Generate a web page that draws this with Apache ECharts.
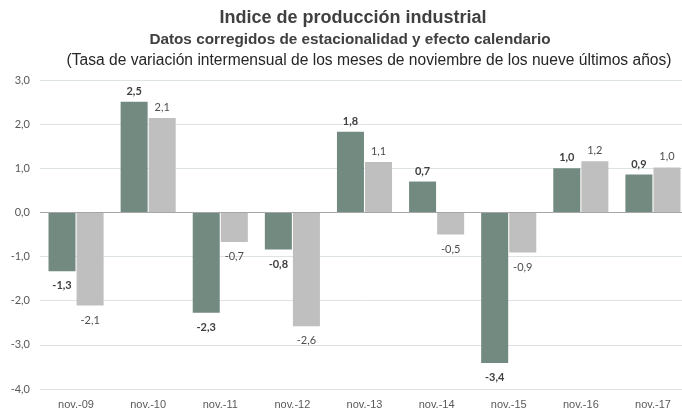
<!DOCTYPE html>
<html>
<head>
<meta charset="utf-8">
<script src="https://cdn.jsdelivr.net/npm/echarts@6/dist/echarts.min.js"></script>
<style>
  html, body { margin: 0; padding: 0; background: #fff; }
  #chart { width: 682px; height: 412px; }
</style>
</head>
<body>
<div id="chart"></div>
<script>
const categories = ['nov.-09', 'nov.-10', 'nov.-11', 'nov.-12', 'nov.-13', 'nov.-14', 'nov.-15', 'nov.-16', 'nov.-17']
const seriesA = [-1.33, 2.51, -2.27, -0.84, 1.83, 0.70, -3.41, 1.00, 0.86]
const seriesB = [-2.11, 2.14, -0.67, -2.58, 1.14, -0.50, -0.91, 1.16, 1.02]
const yTicks = { min: -4, max: 3, interval: 1 }

const fmt = v => v.toFixed(1).replace('.', ',')

function toItems(values) {
  return values.map(v => ({
    value: v,
    label: { position: v < 0 ? 'bottom' : 'top', distance: v < 0 ? 9 : 5 }
  }))
}

const chart = echarts.init(document.getElementById('chart'))

const option = {
  animation: false,
  backgroundColor: '#fff',
  title: [
    {
      text: 'Indice de producción industrial',
      left: 348,
      top: 4,
      textAlign: 'center',
      textStyle: { fontFamily: 'Liberation Sans', fontSize: 18, fontWeight: 'bold', color: '#404040' }
    },
    {
      text: 'Datos corregidos de estacionalidad y efecto calendario',
      left: 345,
      top: 27,
      textAlign: 'center',
      textStyle: { fontFamily: 'Liberation Sans', fontSize: 15.3, fontWeight: 'bold', color: '#404040' }
    },
    {
      text: '(Tasa de variación intermensual de los meses de noviembre de los nueve últimos años)',
      left: 364,
      top: 48,
      textAlign: 'center',
      textStyle: { fontFamily: 'Liberation Sans', fontSize: 15.6, fontWeight: 'normal', color: '#262626' }
    }
  ],
  grid: {
    left: 40,
    right: -7,
    top: 80,
    bottom: 23,
    outerBoundsMode: 'none'
  },
  xAxis: {
    type: 'category',
    data: categories,
    axisLine: { show: false },
    axisTick: { show: false },
    axisLabel: {
      margin: 10,
      color: '#595959',
      fontFamily: 'Liberation Sans',
      fontSize: 11
    }
  },
  yAxis: {
    type: 'value',
    min: yTicks.min,
    max: yTicks.max,
    interval: yTicks.interval,
    axisLine: { show: false },
    axisTick: { show: false },
    axisLabel: {
      margin: 10,
      color: '#595959',
      fontFamily: 'Lato',
      fontSize: 11,
      formatter: v => fmt(v)
    },
    splitLine: { lineStyle: { color: '#dde3e3', width: 1 } }
  },
  series: [
    {
      name: 'A',
      type: 'bar',
      data: toItems(seriesA),
      barWidth: 27,
      barGap: '4%',
      itemStyle: { color: '#728a80' },
      label: {
        show: true,
        color: '#404040',
        fontFamily: 'Lato',
        fontWeight: 'bold',
        fontSize: 11,
        formatter: p => fmt(p.value)
      },
      markLine: {
        silent: true,
        symbol: 'none',
        label: { show: false },
        lineStyle: { color: '#a6a6a6', type: 'solid', width: 1 },
        data: [{ yAxis: 0 }]
      }
    },
    {
      name: 'B',
      type: 'bar',
      data: toItems(seriesB),
      barWidth: 27,
      itemStyle: { color: '#bfbfbf' },
      label: {
        show: true,
        color: '#4d4d4d',
        fontFamily: 'Lato',
        fontSize: 11,
        formatter: p => fmt(p.value)
      }
    }
  ]
}

chart.setOption(option)
</script>
</body>
</html>
